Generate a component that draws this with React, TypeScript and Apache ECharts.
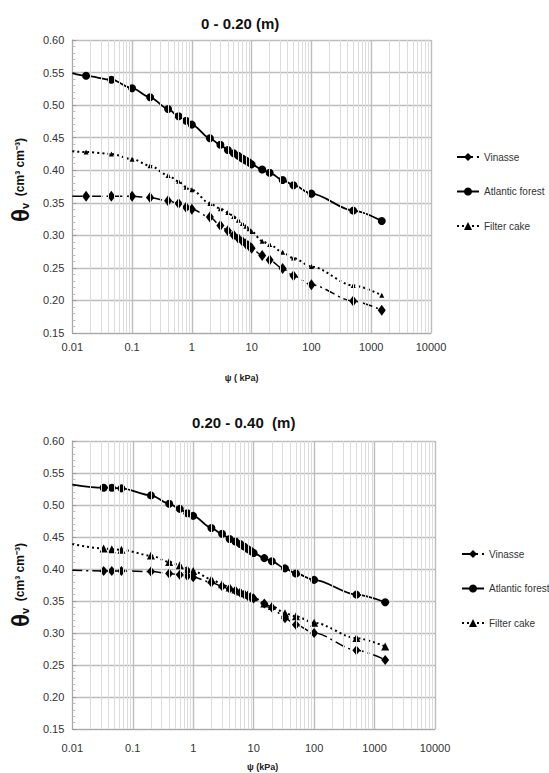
import React, { useEffect, useRef } from "react";
import * as echarts from "echarts";

// ---------- data ----------
const seriesNames = ["Vinasse", "Atlantic forest", "Filter cake"];
const psiStart = 0.01;

// 0 - 0.20 m
const topPsi = [0.017, 0.045, 0.1, 0.2, 0.4, 0.6, 0.8, 1, 2, 3, 4, 5, 6, 7, 8, 9, 10, 15, 20, 33, 50, 100, 500, 1500];
const topVinasse = [0.36, 0.36, 0.36, 0.358, 0.353, 0.349, 0.343, 0.34, 0.328, 0.315, 0.307, 0.3, 0.295, 0.291, 0.287, 0.284, 0.28, 0.269, 0.262, 0.249, 0.238, 0.224, 0.199, 0.185];
const topAtlantic = [0.545, 0.539, 0.526, 0.512, 0.494, 0.483, 0.476, 0.47, 0.449, 0.439, 0.431, 0.426, 0.422, 0.418, 0.415, 0.412, 0.409, 0.401, 0.396, 0.385, 0.377, 0.364, 0.338, 0.322];
const topFilter = [0.428, 0.425, 0.417, 0.407, 0.392, 0.383, 0.374, 0.37, 0.349, 0.341, 0.335, 0.329, 0.323, 0.318, 0.314, 0.31, 0.306, 0.291, 0.286, 0.274, 0.265, 0.252, 0.223, 0.208];
const topCurveStart = [0.36, 0.549, 0.429];

// 0.20 - 0.40 m
const botPsi = [0.033, 0.045, 0.065, 0.2, 0.4, 0.6, 0.8, 1, 2, 3, 4, 5, 6, 7, 8, 9, 10, 15, 20, 33, 50, 100, 500, 1500];
const botVinasse = [0.397, 0.397, 0.397, 0.396, 0.393, 0.391, 0.389, 0.387, 0.379, 0.373, 0.369, 0.366, 0.363, 0.36, 0.358, 0.356, 0.354, 0.346, 0.34, 0.323, 0.313, 0.3, 0.273, 0.258];
const botAtlantic = [0.527, 0.527, 0.526, 0.515, 0.502, 0.494, 0.487, 0.483, 0.464, 0.455, 0.447, 0.443, 0.439, 0.435, 0.431, 0.428, 0.425, 0.417, 0.412, 0.401, 0.393, 0.383, 0.36, 0.348];
const botFilter = [0.432, 0.431, 0.43, 0.421, 0.411, 0.406, 0.4, 0.397, 0.384, 0.376, 0.371, 0.368, 0.365, 0.362, 0.36, 0.358, 0.356, 0.346, 0.342, 0.331, 0.326, 0.316, 0.292, 0.279];
const botCurveStart = [0.398, 0.532, 0.439];

const titles = ["0 - 0.20 (m)", "0.20 - 0.40  (m)"];
const xNames = ["ψ ( kPa)", "ψ (kPa)"];
const decades = [0.01, 0.1, 1, 10, 100, 1000];
const minorMultipliers = [2, 3, 4, 5, 6, 7, 8, 9];

// ---------- option ----------
const FONT = "Liberation Sans, Arial, sans-serif";

function buildSeries(gi: number, psi: number[], vals: number[][], start: number[], small: boolean) {
  const styles = [
    { symbol: "diamond", size: small ? [8, 11] : [8, 10], line: { color: "#000", width: 1.5, type: [10, 4, 2, 4] } },
    { symbol: "circle", size: 8, line: { color: "#000", width: 1.8, type: "solid" } },
    { symbol: "triangle", size: small ? 5 : 8, line: { color: "#000", width: 2, type: [2, 3] } },
  ];
  const out: any[] = seriesNames.map((name, k) => ({
    name,
    type: "line",
    xAxisIndex: gi,
    yAxisIndex: gi,
    symbol: styles[k].symbol,
    symbolSize: styles[k].size,
    showAllSymbol: true,
    smooth: 0.3,
    smoothMonotone: "x",
    itemStyle: { color: "#000" },
    lineStyle: styles[k].line,
    z: 3,
    data: [
      { value: [psiStart, start[k]], symbol: "none" },
      ...psi.map((p, i) => [p, vals[k][i]]),
    ],
  }));
  const minor: any[] = [];
  decades.forEach((d) => minorMultipliers.forEach((m) => minor.push({ xAxis: d * m })));
  out.push({
    name: "minor-grid-" + gi,
    type: "line",
    xAxisIndex: gi,
    yAxisIndex: gi,
    data: [],
    z: 1,
    silent: true,
    markLine: {
      silent: true,
      symbol: ["none", "none"],
      label: { show: false },
      lineStyle: { color: "#dcdcdc", width: 1, type: "solid" },
      emphasis: { disabled: true },
      data: minor,
    },
  });
  return out;
}

function xAxis(gi: number, labelMargin: number, nameGap: number, namePad: number[]) {
  return {
    type: "log",
    logBase: 10,
    gridIndex: gi,
    min: 0.01,
    max: 10000,
    name: xNames[gi],
    nameLocation: "middle",
    nameGap,
    nameTextStyle: { fontSize: 9, fontWeight: "bold", color: "#222", fontFamily: FONT, padding: namePad },
    axisLine: { show: true, lineStyle: { color: "#a8a8a8", width: 1 } },
    axisTick: { show: false },
    minorTick: { show: false },
    splitLine: { show: true, lineStyle: { color: "#bdbdbd", width: 1.4 } },
    axisLabel: {
      color: "#333",
      fontSize: 11,
      fontFamily: FONT,
      margin: labelMargin,
      formatter: (v: number) => String(parseFloat(Number(v).toPrecision(3))),
    },
  };
}

function yAxis(gi: number, nameGap: number, namePad: number[]) {
  return {
    type: "value",
    gridIndex: gi,
    min: 0.15,
    max: 0.6,
    interval: 0.05,
    name: "{t|θ}{s|v}  {u|(cm³ cm⁻³)}",
    nameLocation: "middle",
    nameRotate: 90,
    nameGap,
    nameTextStyle: {
      padding: namePad,
      rich: {
        t: { fontSize: 24, fontWeight: "bold", color: "#111", fontFamily: FONT, verticalAlign: "middle" },
        s: { fontSize: 11, fontWeight: "bold", color: "#111", fontFamily: FONT, verticalAlign: "bottom", padding: [0, 0, 2, 0] },
        u: { fontSize: 12, fontWeight: "bold", color: "#111", fontFamily: FONT, verticalAlign: "middle" },
      },
    },
    axisLine: { show: true, lineStyle: { color: "#a8a8a8", width: 1 } },
    axisTick: { show: true, inside: true, length: 4, lineStyle: { color: "#999" } },
    minorTick: { show: true, splitNumber: 5, length: 3, lineStyle: { color: "#bbb" } },
    splitLine: { show: true, lineStyle: { color: "#bdbdbd", width: 1.4 } },
    axisLabel: {
      color: "#333",
      fontSize: 11,
      fontFamily: FONT,
      margin: 8,
      formatter: (v: number) => v.toFixed(2),
    },
  };
}

function legend(left: number, top: number) {
  return {
    orient: "vertical",
    left,
    top,
    itemWidth: 22,
    itemHeight: 10,
    itemGap: 20.5,
    data: seriesNames,
    textStyle: { fontSize: 10, color: "#333", fontFamily: FONT, lineHeight: 14 },
    selectedMode: false,
  };
}

const option: any = {
  animation: false,
  backgroundColor: "#fff",
  title: [
    { text: titles[0], left: 196, top: 11, textStyle: { fontSize: 15, fontWeight: "bold", color: "#111", fontFamily: FONT } },
    { text: titles[1], left: 187, top: 410, textStyle: { fontSize: 15, fontWeight: "bold", color: "#111", fontFamily: FONT } },
  ],
  legend: [legend(451, 145), legend(456, 542)],
  grid: [
    { left: 65, top: 40, width: 366, height: 293 },
    { left: 60, top: 441, width: 375, height: 288 },
  ],
  xAxis: [xAxis(0, 8, 40, [0, 20, 0, 0]), xAxis(1, 13, 33, [0, 0, 0, 18])],
  yAxis: [yAxis(0, 37, [0, 0, 0, 13]), yAxis(1, 32, [0, 0, 0, 0])],
  series: [
    ...buildSeries(0, topPsi, [topVinasse, topAtlantic, topFilter], topCurveStart, true),
    ...buildSeries(1, botPsi, [botVinasse, botAtlantic, botFilter], botCurveStart, false),
  ],
};

export default function App() {
  const ref = useRef<HTMLDivElement>(null);
  useEffect(() => {
    const chart = echarts.init(ref.current!, undefined, { renderer: "svg" });
    chart.setOption(option);
    return () => chart.dispose();
  }, []);
  return (
    <div
      ref={ref}
      style={{ position: "absolute", left: 0, top: 0, width: 549, height: 773, background: "#fff" }}
    />
  );
}
